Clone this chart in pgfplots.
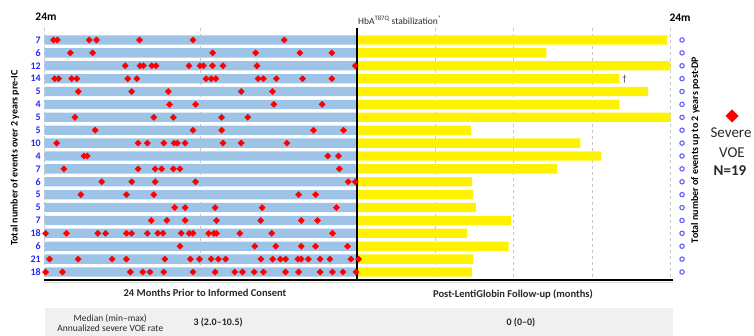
\documentclass[border=0pt]{standalone}
\usepackage{pgfplots}
\pgfplotsset{compat=1.18}
\usepackage{fontspec}
\setmainfont{Carlito}
\definecolor{barblue}{RGB}{157,195,230}
\definecolor{lblblue}{RGB}{40,40,255}
\definecolor{circblue}{RGB}{95,95,255}
\definecolor{gridgray}{RGB}{200,200,200}
\definecolor{bandgray}{RGB}{240,240,240}
\definecolor{txtgray}{RGB}{40,40,40}
\begin{document}
\begin{tikzpicture}[x=1pt,y=1pt]
\fill[bandgray] (0.7,-28) rectangle (628.7,-56);
\begin{axis}[at={(0,0)}, anchor=south west, scale only axis, width=626pt, height=252pt,
 xmin=-24, xmax=24, ymin=0.07, ymax=19.62, y dir=reverse,
 clip=false,
 axis line style={draw=none},
 xtick={-24,-12,6,12,18,24}, xticklabels={}, xmajorgrids,
 grid style={gridgray, line width=0.8pt, dash pattern=on 3pt off 3pt},
 ytick={1,...,19}, yticklabels={7,6,12,14,5,4,5,5,10,4,7,6,5,5,7,18,6,21,18},
 yticklabel style={font=\bfseries\fontsize{10}{12}\selectfont, text=lblblue},
 major tick length=0pt,
]
\addplot[xbar, bar width=9.3pt, bar shift=0pt, fill=barblue, draw=none] coordinates {
(-24,1) (-24,2) (-24,3) (-24,4) (-24,5) (-24,6) (-24,7) (-24,8) (-24,9) (-24,10)
(-24,11) (-24,12) (-24,13) (-24,14) (-24,15) (-24,16) (-24,17) (-24,18) (-24,19)};
\addplot[xbar, bar width=9.3pt, bar shift=0pt, fill=yellow, draw=none] coordinates {
(23.75,1) (14.5,2) (24,3) (20.1,4) (22.3,5) (20.1,6) (24,7) (8.7,8) (17.1,9) (18.7,10)
(15.3,11) (8.8,12) (8.9,13) (9.1,14) (11.8,15) (8.4,16) (11.6,17) (8.9,18) (8.8,19)};
\draw[black, line width=1.8pt] (axis cs:0,0.07) -- (axis cs:0,19.62);
\addplot[only marks, red, mark=square*, mark size=2.2pt, mark options={rotate=45, fill=red, draw=red}] coordinates {
(-23.3,1) (-23.0,1) (-20.55,1) (-20.0,1) (-16.7,1) (-12.6,1) (-5.6,1)
(-22.0,2) (-20.3,2) (-11.1,2) (-7.8,2) (-4.4,2) (-1.95,2)
(-17.8,3) (-16.66,3) (-16.4,3) (-15.76,3) (-15.43,3) (-12.9,3) (-12.06,3) (-11.8,3) (-11.1,3) (-10.3,3) (-7.7,3) (-0.16,3)
(-23.2,4) (-22.9,4) (-21.9,4) (-21.5,4) (-17.6,4) (-16.9,4) (-11.6,4) (-11.2,4) (-10.85,4) (-7.6,4) (-7.2,4) (-6.2,4) (-4.2,4) (-1.95,4)
(-21.4,5) (-17.3,5) (-14.5,5) (-8.9,5) (-6.5,5)
(-14.4,6) (-12.4,6) (-6.4,6) (-2.7,6)
(-21.65,7) (-15.6,7) (-14.1,7) (-10.4,7) (-8.4,7)
(-20.1,8) (-12.6,8) (-10.4,8) (-3.36,8) (-1.06,8)
(-23.05,9) (-16.8,9) (-16.1,9) (-14.84,9) (-14.05,9) (-13.8,9) (-13.2,9) (-10.3,9) (-8.9,9) (-5.4,9)
(-20.96,10) (-20.7,10) (-2.26,10) (-1.44,10)
(-22.5,11) (-16.8,11) (-15.5,11) (-15.0,11) (-14.1,11) (-13.6,11) (-1.37,11)
(-19.6,12) (-17.3,12) (-15.5,12) (-12.4,12) (-0.7,12) (-0.16,12)
(-21.2,13) (-17.7,13) (-15.6,13) (-4.5,13) (-3.2,13)
(-14.0,14) (-13.2,14) (-10.9,14) (-7.3,14) (-1.6,14)
(-15.8,15) (-14.6,15) (-13.2,15) (-10.8,15) (-7.4,15) (-4.3,15) (-3.05,15)
(-23.9,16) (-22.3,16) (-19.9,16) (-19.3,16) (-17.7,16) (-17.3,16) (-16.1,16) (-15.3,16) (-14.9,16) (-13.5,16) (-12.9,16) (-12.6,16) (-11.4,16) (-11.0,16) (-10.8,16) (-9.0,16) (-6.56,16) (-1.9,16)
(-13.6,17) (-7.86,17) (-6.25,17) (-4.3,17) (-3.2,17) (-0.75,17)
(-23.6,18) (-21.4,18) (-18.8,18) (-17.7,18) (-14.75,18) (-12.8,18) (-12.1,18) (-11.2,18) (-10.65,18) (-10.1,18) (-7.4,18) (-6.5,18) (-5.9,18) (-5.5,18) (-4.56,18) (-4.3,18) (-3.75,18) (-2.85,18) (-2.1,18) (-0.5,18) (0.1,18)
(-23.9,19) (-22.6,19) (-17.4,19) (-16.45,19) (-15.9,19) (-14.84,19) (-12.6,19) (-10.9,19) (-9.4,19) (-8.8,19) (-7.9,19) (-7.2,19) (-5.5,19) (-4.5,19) (-2.85,19) (-1.9,19) (-1.1,19) (-0.1,19)
};
\addplot[only marks, circblue, mark=o, mark size=2.2pt, line width=1.1pt] coordinates {
(24.9,1) (24.9,2) (24.9,3) (24.9,4) (24.9,5) (24.9,6) (24.9,7) (24.9,8) (24.9,9) (24.9,10)
(24.9,11) (24.9,12) (24.9,13) (24.9,14) (24.9,15) (24.9,16) (24.9,17) (24.9,18) (24.9,19)};
\node[text=txtgray, font=\fontsize{9}{10}\selectfont] at (axis cs:20.5,4) {\textdagger};
\end{axis}
\draw[black!15, line width=1.2pt] (-0.5,-2.2) -- (629,-2.2);
\draw[black, line width=2.4pt] (-0.5,0) -- (629,0);
\node[font=\bfseries\fontsize{11.5}{12}\selectfont] at (1.7,263) {24m};
\node[font=\bfseries\fontsize{11.5}{12}\selectfont] at (635.7,262) {24m};
\node[anchor=west, inner sep=0pt, text=txtgray, font=\fontsize{9.5}{11}\selectfont] at (313.7,260) {HbA\textsuperscript{T87Q} stabilization\textsuperscript{*}};
\node[rotate=90, font=\bfseries\fontsize{10}{12}\selectfont] at (-29.3,122) {Total number of events over 2 years pre-IC};
\node[rotate=90, font=\bfseries\fontsize{10}{12}\selectfont] at (651,130) {Total number of events up to 2 years post-DP};
\node[fill=red, minimum size=9.2pt, inner sep=0pt, rotate=45] at (687.7,164) {};
\node[font=\fontsize{15}{16}\selectfont, text=txtgray] at (686.7,147) {Severe};
\node[font=\fontsize{15}{16}\selectfont, text=txtgray] at (687.7,127) {VOE};
\node[font=\bfseries\fontsize{15}{16}\selectfont, text=txtgray] at (685.7,109) {N=19};
\node[font=\bfseries\fontsize{10.5}{12}\selectfont, text=txtgray] at (160.7,-13) {24 Months Prior to Informed Consent};
\node[font=\bfseries\fontsize{10.5}{12}\selectfont, text=txtgray] at (468.7,-14) {Post-LentiGlobin Follow-up (months)};
\node[align=center, text=txtgray, font=\fontsize{9.5}{10}\selectfont] at (66,-43) {Median (min--max)\\Annualized severe VOE rate};
\node[anchor=west, text=txtgray, font=\bfseries\fontsize{10}{12}\selectfont] at (145.7,-43) {3 (2.0--10.5)};
\node[text=txtgray, font=\bfseries\fontsize{10}{12}\selectfont] at (476.7,-43) {0 (0--0)};
\pgfresetboundingbox
\path[use as bounding box] (-44.3,-56) rectangle (709.7,280);
\end{tikzpicture}
\end{document}
